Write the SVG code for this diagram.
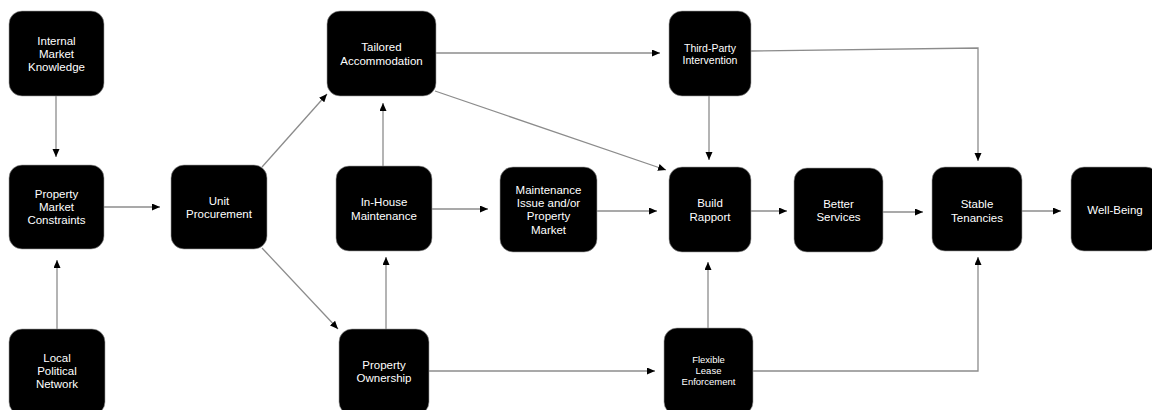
<svg xmlns="http://www.w3.org/2000/svg" width="1152" height="410" viewBox="0 0 1152 410">
  <style>
    .node rect { fill: #000; stroke: #9a9a9a; stroke-width: 0.6; }
    .node text { fill: #fff; font-family: "Liberation Sans", Arial, sans-serif; font-size: 11.5px; text-anchor: middle; dominant-baseline: central; }
    .node.small text { font-size: 10.5px; }
    .node.tiny text { font-size: 9.5px; }
    .edge { fill: none; stroke: #8c8c8c; stroke-width: 1.3; marker-end: url(#arrow); }
  </style>
  <defs>
    <marker id="arrow" markerUnits="userSpaceOnUse" markerWidth="9" markerHeight="8" refX="8" refY="3.5" orient="auto">
      <path d="M0,0 L8,3.5 L0,7 z" fill="#000"/>
    </marker>
  </defs>
  <rect width="1152" height="410" fill="#fff"/>

  <!-- connectors -->
  <g id="connectors">
    <path class="edge" d="M56,96 V157"/>
    <path class="edge" d="M104,207 H160"/>
    <path class="edge" d="M57,329 V260"/>
    <path class="edge" d="M262,167 L327,94"/>
    <path class="edge" d="M262,248 L338,329"/>
    <path class="edge" d="M383,166 V103"/>
    <path class="edge" d="M386,329 V257"/>
    <path class="edge" d="M432,209 H488"/>
    <path class="edge" d="M597,211 H657"/>
    <path class="edge" d="M435,91 L666,170"/>
    <path class="edge" d="M436,53 H660"/>
    <path class="edge" d="M709,96 V160"/>
    <path class="edge" d="M751,51 L978,48 V161"/>
    <path class="edge" d="M751,211 H787"/>
    <path class="edge" d="M883,212 H923"/>
    <path class="edge" d="M1022,211 H1061"/>
    <path class="edge" d="M708,328 V262"/>
    <path class="edge" d="M753,371 H978 V257"/>
    <path class="edge" d="M429,371 H655"/>
  </g>

  <!-- nodes -->
  <g id="internal-market-knowledge" class="node">
    <rect x="9" y="11" width="95" height="85" rx="13"/>
    <text x="56.5" y="40.5">Internal</text>
    <text x="56.5" y="53.5">Market</text>
    <text x="56.5" y="66.5">Knowledge</text>
  </g>
  <g id="property-market-constraints" class="node">
    <rect x="9" y="165" width="95" height="84" rx="13"/>
    <text x="56.5" y="194">Property</text>
    <text x="56.5" y="207">Market</text>
    <text x="56.5" y="220">Constraints</text>
  </g>
  <g id="local-political-network" class="node">
    <rect x="9" y="329" width="96" height="86" rx="13"/>
    <text x="57" y="358">Local</text>
    <text x="57" y="371">Political</text>
    <text x="57" y="384">Network</text>
  </g>
  <g id="unit-procurement" class="node">
    <rect x="171" y="165" width="96" height="84" rx="13"/>
    <text x="219" y="201">Unit</text>
    <text x="219" y="214">Procurement</text>
  </g>
  <g id="tailored-accommodation" class="node">
    <rect x="327" y="11" width="109" height="85" rx="13"/>
    <text x="381.5" y="47">Tailored</text>
    <text x="381.5" y="61">Accommodation</text>
  </g>
  <g id="in-house-maintenance" class="node">
    <rect x="336" y="166" width="96" height="85" rx="13"/>
    <text x="384" y="202">In-House</text>
    <text x="384" y="216">Maintenance</text>
  </g>
  <g id="property-ownership" class="node">
    <rect x="339" y="329" width="90" height="86" rx="13"/>
    <text x="384" y="365">Property</text>
    <text x="384" y="378">Ownership</text>
  </g>
  <g id="maintenance-issue" class="node">
    <rect x="500" y="167" width="97" height="85" rx="13"/>
    <text x="548.5" y="189.5">Maintenance</text>
    <text x="548.5" y="203">Issue and/or</text>
    <text x="548.5" y="216.2">Property</text>
    <text x="548.5" y="229.5">Market</text>
  </g>
  <g id="third-party-intervention" class="node small">
    <rect x="669" y="11" width="82" height="85" rx="13"/>
    <text x="710" y="48">Third-Party</text>
    <text x="710" y="60">Intervention</text>
  </g>
  <g id="build-rapport" class="node">
    <rect x="669" y="167" width="82" height="85" rx="13"/>
    <text x="710" y="203">Build</text>
    <text x="710" y="217">Rapport</text>
  </g>
  <g id="flexible-lease-enforcement" class="node tiny">
    <rect x="664" y="328" width="89" height="87" rx="13"/>
    <text x="708.5" y="359">Flexible</text>
    <text x="708.5" y="370">Lease</text>
    <text x="708.5" y="381">Enforcement</text>
  </g>
  <g id="better-services" class="node">
    <rect x="794" y="168" width="89" height="84" rx="13"/>
    <text x="838.5" y="204">Better</text>
    <text x="838.5" y="217">Services</text>
  </g>
  <g id="stable-tenancies" class="node">
    <rect x="932" y="167" width="90" height="84" rx="13"/>
    <text x="977" y="204">Stable</text>
    <text x="977" y="218">Tenancies</text>
  </g>
  <g id="well-being" class="node">
    <rect x="1071" y="167" width="88" height="84" rx="13"/>
    <text x="1115" y="210">Well-Being</text>
  </g>
</svg>
